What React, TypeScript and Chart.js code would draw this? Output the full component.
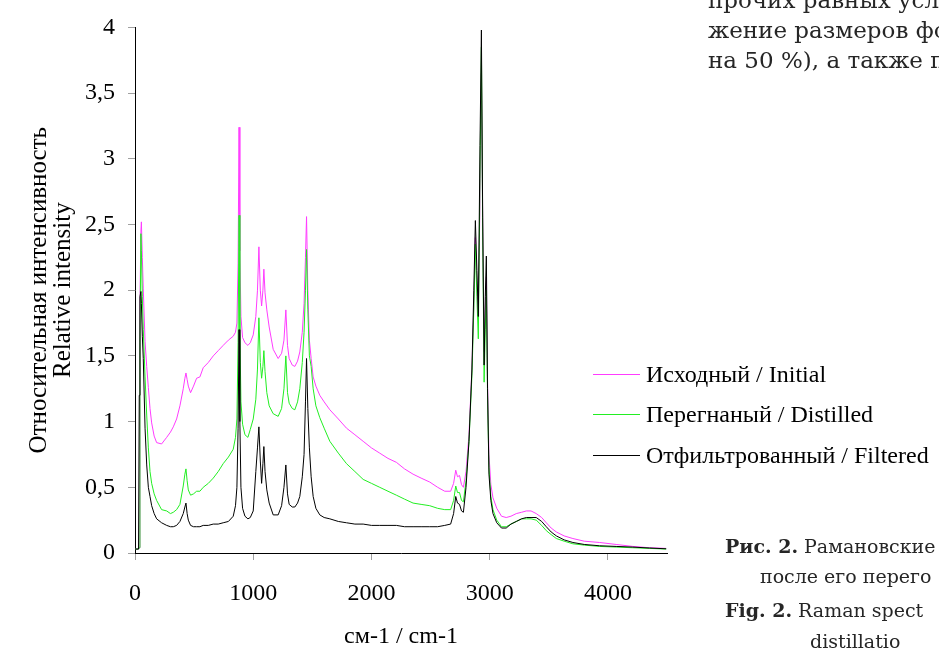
import { useEffect, useRef } from "react";
import { Chart, registerables } from "chart.js";

Chart.register(...registerables);

// Raman shift, cm-1
const WAVENUMBERS = [
  0, 30, 36, 42, 50, 54, 62, 70, 85, 99,
  113, 127, 141, 162, 183, 225, 268, 300, 324, 352,
  380, 408, 422, 431, 441, 451, 470, 495, 521, 549,
  577, 620, 662, 704, 746, 790, 831, 850, 862, 872,
  880, 887, 896, 910, 930, 955, 975, 1000, 1022, 1036,
  1048, 1060, 1071, 1082, 1090, 1100, 1115, 1135, 1169, 1211,
  1240, 1260, 1276, 1290, 1304, 1330, 1352, 1375, 1394, 1415,
  1430, 1442, 1451, 1462, 1475, 1490, 1507, 1530, 1563, 1600,
  1648, 1720, 1789, 1860, 1930, 2000, 2070, 2140, 2211, 2280,
  2352, 2420, 2493, 2560, 2620, 2670, 2695, 2713, 2728, 2745,
  2762, 2778, 2800, 2825, 2850, 2866, 2879, 2892, 2904, 2918,
  2930, 2941, 2953, 2963, 2972, 2982, 2994, 3010, 3028, 3060,
  3100, 3140, 3180, 3225, 3270, 3310, 3350, 3394, 3440, 3479,
  3520, 3564, 3630, 3704, 3800, 3930, 4070, 4211, 4350, 4493,
];

const INITIAL = [
  0.03, 0.03, 0.04, 1.9, 2.45, 2.52, 2.25, 2.01, 1.61, 1.42,
  1.26, 1.1, 0.99, 0.89, 0.84, 0.83, 0.88, 0.92, 0.96, 1.02,
  1.12, 1.25, 1.33, 1.37, 1.32, 1.27, 1.22, 1.27, 1.33, 1.34,
  1.41, 1.45, 1.5, 1.54, 1.58, 1.62, 1.65, 1.68, 1.75, 2.2,
  3.24, 2.3, 1.8, 1.64, 1.6, 1.58, 1.6, 1.66, 1.8, 2.0,
  2.33, 2.0, 1.88, 2.0, 2.16, 1.98, 1.85, 1.72, 1.55, 1.48,
  1.52, 1.62, 1.85, 1.58, 1.48, 1.43, 1.42, 1.46, 1.53, 1.68,
  1.9, 2.25, 2.56, 2.0, 1.62, 1.48, 1.34, 1.27, 1.2, 1.15,
  1.09, 1.02, 0.95, 0.9, 0.85, 0.8, 0.76, 0.72, 0.69, 0.64,
  0.6, 0.57, 0.54, 0.5, 0.47, 0.47, 0.53, 0.63, 0.58, 0.59,
  0.52, 0.5, 0.62, 0.9, 1.4, 1.9, 2.4, 2.05, 1.78, 2.7,
  3.65, 2.55, 1.53, 1.85, 2.1, 1.3, 0.75, 0.52, 0.42, 0.34,
  0.28, 0.27, 0.28, 0.3, 0.31, 0.32, 0.32, 0.3, 0.27, 0.23,
  0.19, 0.16, 0.13, 0.11, 0.09, 0.08, 0.065, 0.05, 0.04, 0.035,
];

const DISTILLED = [
  0.03, 0.03, 0.04, 1.6, 2.43, 2.3, 1.95, 1.7, 1.34, 1.05,
  0.8, 0.62, 0.53, 0.45, 0.4, 0.33, 0.32, 0.3, 0.31, 0.33,
  0.37, 0.51, 0.6, 0.64, 0.55, 0.48, 0.44, 0.45, 0.47, 0.47,
  0.5, 0.53, 0.57, 0.62, 0.68, 0.73, 0.79, 0.88, 1.02, 1.6,
  2.57, 1.7, 1.15, 0.98, 0.9, 0.88, 0.94, 1.02, 1.17, 1.4,
  1.79, 1.45, 1.33, 1.42, 1.54, 1.38, 1.22, 1.12, 1.06, 1.04,
  1.1, 1.25, 1.5, 1.22, 1.14, 1.1, 1.09, 1.15, 1.25, 1.45,
  1.68, 2.0, 2.31, 1.85, 1.5, 1.42, 1.25, 1.12, 1.03, 0.95,
  0.85, 0.76, 0.68, 0.62, 0.56, 0.53, 0.5, 0.47, 0.44, 0.41,
  0.38, 0.37, 0.36, 0.34, 0.33, 0.33, 0.4, 0.51, 0.46, 0.46,
  0.4, 0.39, 0.55, 0.85, 1.35, 1.85, 2.35, 1.95, 1.63, 2.85,
  3.85, 2.45, 1.3, 1.7, 2.0, 1.2, 0.65, 0.43, 0.33, 0.25,
  0.2, 0.2, 0.22, 0.24, 0.26, 0.26, 0.26, 0.25, 0.21, 0.17,
  0.14, 0.11, 0.09, 0.07, 0.06, 0.05, 0.045, 0.04, 0.035, 0.03,
];

const FILTERED = [
  0.03, 0.03, 1.2, 1.95, 1.99, 1.9, 1.65, 1.48, 0.95, 0.67,
  0.5, 0.43, 0.36, 0.3, 0.26, 0.23, 0.21, 0.2, 0.2, 0.21,
  0.24, 0.3, 0.35, 0.38, 0.3, 0.25, 0.21, 0.2, 0.2, 0.2,
  0.21, 0.21, 0.22, 0.22, 0.23, 0.24, 0.28, 0.36, 0.5, 0.95,
  1.7, 1.0, 0.5, 0.34, 0.28, 0.26, 0.27, 0.32, 0.62, 0.8,
  0.96, 0.7, 0.53, 0.68, 0.81, 0.62, 0.48, 0.38, 0.29, 0.29,
  0.36, 0.5, 0.67, 0.45, 0.37, 0.35, 0.35, 0.38, 0.43, 0.58,
  0.75, 1.15, 1.48, 1.1, 0.8, 0.58, 0.43, 0.34, 0.29, 0.27,
  0.26, 0.24, 0.23, 0.22, 0.22, 0.21, 0.21, 0.21, 0.21, 0.2,
  0.2, 0.2, 0.2, 0.2, 0.21, 0.22, 0.3, 0.43, 0.38, 0.37,
  0.32, 0.31, 0.5, 0.85, 1.4, 2.0, 2.53, 2.15, 1.8, 3.1,
  3.98, 2.55, 1.43, 1.95, 2.26, 1.25, 0.6, 0.4, 0.3, 0.23,
  0.19, 0.19, 0.22, 0.24, 0.26, 0.27, 0.27, 0.27, 0.24, 0.2,
  0.16, 0.13, 0.1, 0.08, 0.065, 0.055, 0.05, 0.045, 0.038, 0.032,
];

const SERIES_LABELS = [
  "Исходный / Initial",
  "Перегнаный / Distilled",
  "Отфильтрованный / Filtered",
];
const SERIES_COLORS = ["#ff3cff", "#22ee22", "#000000"];
const SERIES_VALUES = [INITIAL, DISTILLED, FILTERED];

const X_TICKS = [0, 1000, 2000, 3000, 4000];
const Y_TICKS = [0, 0.5, 1, 1.5, 2, 2.5, 3, 3.5, 4];
const X_TITLE = "см-1 / cm-1";
const Y_TITLE = ["Относительная интенсивность", "Relative intensity"];

const TOP_TEXT = ["прочих равных усл", "жение размеров фо", "на 50 %), а также по"];

const SERIF = '"Liberation Serif", "Times New Roman", serif';
const BOOK = '"DejaVu Serif", serif';

export default function App() {
  const canvasRef = useRef<HTMLCanvasElement | null>(null);

  useEffect(() => {
    const canvas = canvasRef.current;
    if (!canvas) return;
    const chart = new Chart(canvas, {
      type: "line",
      data: {
        datasets: SERIES_VALUES.map((vals, k) => ({
          label: SERIES_LABELS[k],
          data: WAVENUMBERS.map((x, i) => ({ x, y: vals[i] })),
          borderColor: SERIES_COLORS[k],
          backgroundColor: SERIES_COLORS[k],
          borderWidth: 1,
          pointRadius: 0,
          tension: 0,
          fill: false,
          order: 2 - k,
        })),
      },
      options: {
        animation: false,
        responsive: false,
        maintainAspectRatio: false,
        devicePixelRatio: 1,
        layout: { padding: { left: 0, top: 22, right: 272, bottom: 0 } },
        plugins: {
          legend: { display: false },
          tooltip: { enabled: false },
        },
        scales: {
          x: {
            type: "linear",
            min: 0,
            max: 4500,
            afterBuildTicks: (s: any) => {
              s.ticks = X_TICKS.map((v) => ({ value: v }));
            },
            afterFit: (s: any) => {
              s.height = 95;
            },
            grid: {
              drawOnChartArea: false,
              drawTicks: true,
              tickLength: 7,
              tickColor: "#a0a0a0",
            },
            border: { display: true, color: "#000", width: 1 },
            ticks: {
              padding: 19,
              color: "#000",
              maxRotation: 0,
              autoSkip: false,
              font: { family: SERIF, size: 24 },
              callback: (v: any) => String(v),
            },
            title: {
              display: true,
              text: X_TITLE,
              color: "#000",
              font: { family: SERIF, size: 24, lineHeight: 0.9 },
              padding: { top: 0, bottom: 0 },
            },
          },
          y: {
            type: "linear",
            min: 0,
            max: 4,
            afterBuildTicks: (s: any) => {
              s.ticks = Y_TICKS.map((v) => ({ value: v }));
            },
            afterFit: (s: any) => {
              s.width = 135;
            },
            grid: {
              drawOnChartArea: false,
              drawTicks: true,
              tickLength: 7,
              tickColor: "#a0a0a0",
            },
            border: { display: true, color: "#000", width: 1 },
            ticks: {
              padding: 13,
              color: "#000",
              font: { family: SERIF, size: 24 },
              callback: (v: any) => String(v).replace(".", ","),
            },
            title: {
              display: true,
              text: Y_TITLE,
              color: "#000",
              font: { family: SERIF, size: 25, lineHeight: 0.96 },
              padding: { top: 27, bottom: 0 },
            },
          },
        },
      },
    });
    return () => chart.destroy();
  }, []);

  const legendRows = [374, 414, 455];

  return (
    <div
      style={{
        position: "fixed",
        left: 0,
        top: 0,
        width: 939,
        height: 648,
        overflow: "hidden",
        background: "#fff",
      }}
    >
      <canvas
        ref={canvasRef}
        width={939}
        height={648}
        style={{ position: "absolute", left: 0, top: 0, width: 939, height: 648 }}
      />
      <div
        style={{
          position: "absolute",
          left: 708,
          top: -15,
          fontFamily: BOOK,
          fontSize: 23,
          lineHeight: "30px",
          color: "#262626",
          whiteSpace: "nowrap",
        }}
      >
        {TOP_TEXT.map((t, i) => (
          <div key={i}>{t}</div>
        ))}
      </div>
      {SERIES_LABELS.map((label, i) => (
        <div
          key={label}
          style={{
            position: "absolute",
            left: 593,
            top: legendRows[i] - 12,
            height: 24,
            display: "flex",
            alignItems: "center",
            whiteSpace: "nowrap",
            fontFamily: SERIF,
            fontSize: 24,
            lineHeight: "24px",
            color: "#000",
          }}
        >
          <span
            style={{
              display: "inline-block",
              width: 47,
              height: 1,
              background: SERIES_COLORS[i],
              marginRight: 6,
            }}
          />
          <span>{label}</span>
        </div>
      ))}
      <div
        style={{
          position: "absolute",
          left: 0,
          top: 0,
          fontFamily: BOOK,
          fontSize: 19,
          color: "#262626",
          whiteSpace: "nowrap",
        }}
      >
        <div style={{ position: "absolute", left: 725, top: 535 }}>
          <b>Рис. 2.</b> Рамановские
        </div>
        <div style={{ position: "absolute", left: 760, top: 565 }}>после его перего</div>
        <div style={{ position: "absolute", left: 725, top: 599 }}>
          <b>Fig. 2.</b> Raman spect
        </div>
        <div style={{ position: "absolute", left: 810, top: 630 }}>distillatio</div>
      </div>
    </div>
  );
}
